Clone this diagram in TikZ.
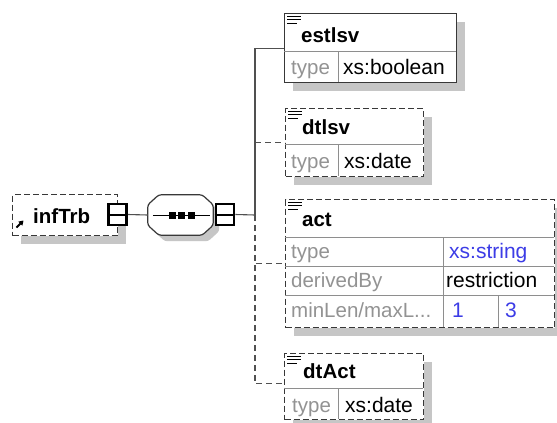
\documentclass[tikz,border=0pt]{standalone}
\usepackage{fontspec}
\setmainfont{Liberation Sans}
\usetikzlibrary{shadows,arrows.meta}

\definecolor{shadowgray}{HTML}{C6C6C6}
\definecolor{linegray}{HTML}{383838}
\definecolor{rulegray}{HTML}{8E8E8E}
\definecolor{labelgray}{HTML}{939393}
\definecolor{valblue}{HTML}{3C3CE6}
\definecolor{trunkgray}{HTML}{505050}

\tikzset{
  elbox/.style={rectangle, draw=linegray, line width=1.2pt, fill=white,
    inner sep=0pt, anchor=north west,
    drop shadow={shadow xshift=8pt, shadow yshift=-8pt, fill=shadowgray, opacity=1}},
  optbox/.style={elbox, dash pattern=on 6pt off 3pt},
  rowrule/.style={draw=rulegray, line width=0.9pt},
  hdr/.style={anchor=base west, inner sep=0pt, text=black,
    font=\fontsize{20.5}{24}\selectfont\bfseries},
  lbl/.style={anchor=base west, inner sep=0pt, text=labelgray,
    font=\fontsize{20.5}{24}\selectfont},
  val/.style={anchor=base west, inner sep=0pt, text=black,
    font=\fontsize{21}{24}\selectfont},
  bval/.style={val, text=valblue},
  toggle/.style={rectangle, draw=black, line width=2.6pt, fill=white,
    inner sep=0pt, minimum width=18pt, minimum height=21pt},
  wire/.style={draw=trunkgray, line width=1.1pt},
  optwire/.style={wire, dash pattern=on 6pt off 4pt},
  docicon/.pic={
    \draw[line width=0.9pt] (0,0) -- (14,0) (0,3.5) -- (14,3.5) (0,7) -- (10,7);
  }
}

\begin{document}
\begin{tikzpicture}[x=1pt,y=-1pt]
\useasboundingbox (0,0) rectangle (557,423);
\fill[white] (0,0) rectangle (557,423);
\clip (0,0) rectangle (557,423);

% ---- root element (reference) ----
\node[optbox, minimum width=105pt, minimum height=41pt] (infTrb) at (12,194) {};
\draw[line width=2pt, -{Triangle[length=4.5pt,width=5.5pt]}] (16.5,227.5) -- (23.5,220.5);
\node[hdr] (infTrb-name) at (33,223) {infTrb};

% ---- sequence compositor ----
\node[rectangle, inner sep=0pt, minimum width=65pt, minimum height=40pt] (seq) at (180.5,215) {};
\path[draw=linegray, line width=1.2pt, fill=white, rounded corners=2.5pt,
      drop shadow={shadow xshift=6pt, shadow yshift=-6pt, fill=shadowgray, opacity=1}]
  ([xshift=11pt]seq.north west) -- ([xshift=-11pt]seq.north east)
  -- ([yshift=-10pt]seq.north east) -- ([yshift=10pt]seq.south east)
  -- ([xshift=-11pt]seq.south east) -- ([xshift=11pt]seq.south west)
  -- ([yshift=10pt]seq.south west) -- ([yshift=-10pt]seq.north west) -- cycle;
\draw[line width=1pt] ([xshift=5pt]seq.west) -- ([xshift=-3pt]seq.east);
\foreach \cx in {172,181.5,191}
  \fill (\cx-3.5,211.5) rectangle (\cx+3.5,218.5);

% ---- collapse toggles ----
\node[toggle] (tgA) at (117.5,214.5) {};
\draw[line width=2pt] (tgA.west) -- (tgA.east);
\node[toggle] (tgB) at (225,214.5) {};
\draw[line width=2pt] (tgB.west) -- (tgB.east);

\draw[wire] (tgA.east) -- (seq.west);

% ---- child elements ----
\node[elbox, minimum width=172pt, minimum height=69pt] (estlsv) at (284,13) {};
\draw[rowrule] (284,51) -- (456,51) (338,51) -- (338,82);
\pic at (287,16) {docicon};
\node[hdr] (estlsv-name) at (301,42) {estlsv};
\node[lbl] (estlsv-tl) at (291,74) {type};
\node[val] (estlsv-tv) at (343,74) {xs:boolean};

\node[optbox, minimum width=138pt, minimum height=68pt] (dtlsv) at (285,108) {};
\draw[rowrule] (285,144) -- (423,144) (338,144) -- (338,176);
\pic at (288,111) {docicon};
\node[hdr] (dtlsv-name) at (302,134) {dtlsv};
\node[lbl] (dtlsv-tl) at (291,168) {type};
\node[val] (dtlsv-tv) at (344,168) {xs:date};

\node[optbox, minimum width=269pt, minimum height=128pt] (act) at (285,199) {};
\draw[rowrule] (285,237) -- (554,237) (285,266) -- (554,266) (285,295) -- (554,295)
  (443,237) -- (443,327) (498,295) -- (498,327);
\pic at (288,202) {docicon};
\node[hdr] (act-name) at (302,226) {act};
\node[lbl] (act-tl) at (291,258) {type};
\node[bval] (act-tv) at (449,258) {xs:string};
\node[lbl] (act-dl) at (291,287) {derivedBy};
\node[val] (act-dv) at (446,287) {restriction};
\node[lbl] (act-ml) at (291,317) {minLen/maxL...};
\node[bval] (act-min) at (452,317) {1};
\node[bval] (act-max) at (505,317) {3};

\node[optbox, minimum width=139pt, minimum height=66pt] (dtAct) at (284,353) {};
\draw[rowrule] (284,388) -- (423,388) (338,388) -- (338,419);
\pic at (287,356) {docicon};
\node[hdr] (dtAct-name) at (303,378) {dtAct};
\node[lbl] (dtAct-tl) at (292,412) {type};
\node[val] (dtAct-tv) at (345,412) {xs:date};

% ---- branch connectors ----
\coordinate (fork) at (255,215);
\draw[wire] (tgB.east) -- (fork);
\draw[wire] (fork) |- (estlsv.west);
\draw[optwire] (fork |- dtlsv.west) -- (dtlsv.west);
\draw[optwire] (fork) |- (act.west);
\draw[optwire] (fork) |- ([yshift=3pt]dtAct.west);
\end{tikzpicture}
\end{document}
